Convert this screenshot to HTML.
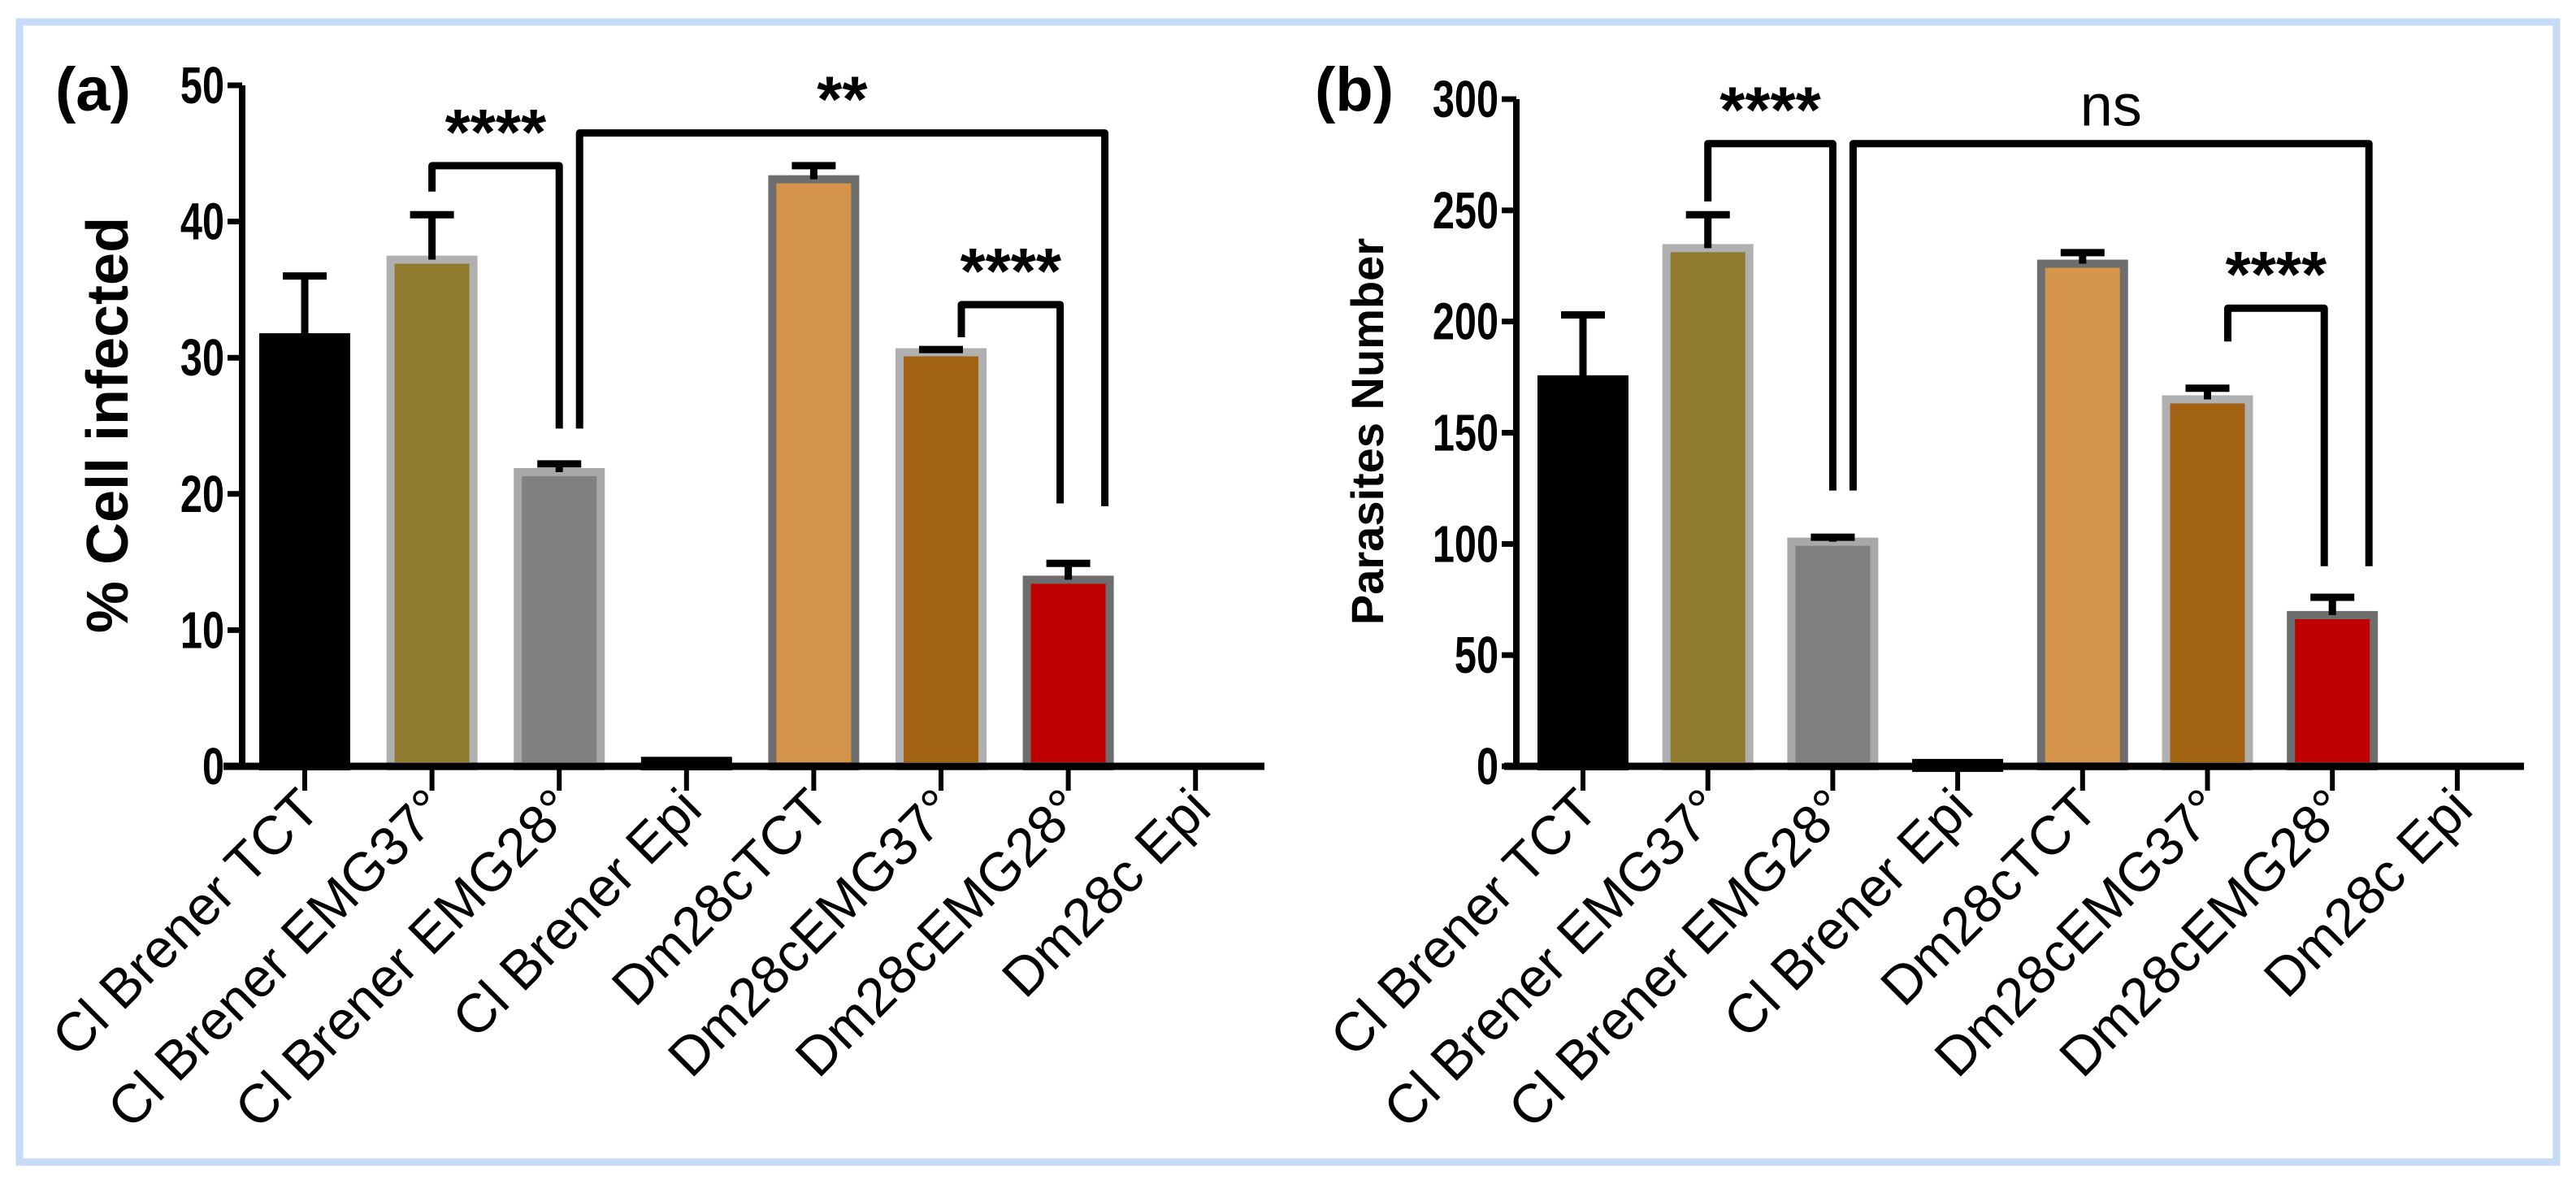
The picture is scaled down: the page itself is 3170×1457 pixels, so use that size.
<!DOCTYPE html>
<html><head><meta charset="utf-8"><style>
html,body{margin:0;padding:0;background:#fff;width:3170px;height:1457px;overflow:hidden}
svg{display:block}
text{font-family:"Liberation Sans",sans-serif}
</style></head><body>
<svg id="fig" width="3170" height="1457" viewBox="0 0 3170 1457" xmlns="http://www.w3.org/2000/svg">
<rect x="24" y="27" width="3122" height="1403" fill="none" stroke="#c6dbf6" stroke-width="9"/>
</svg>
<script>
const categories = ["Cl Brener TCT","Cl Brener EMG37°","Cl Brener EMG28°","Cl Brener Epi","Dm28cTCT","Dm28cEMG37°","Dm28cEMG28°","Dm28c Epi"];
const cellInfected = [31.5, 37.2, 21.6, 0.4, 43.1, 30.4, 13.7, 0];
const cellInfectedErr = [36.0, 40.5, 22.2, 0.4, 44.1, 30.6, 14.9, 0];
const parasites = [174, 233, 101, 1.5, 226, 165, 68, 0];
const parasitesErr = [203, 248, 103, 1.5, 231, 170, 76, 0];
const ticksA = [0, 10, 20, 30, 40, 50];
const ticksB = [0, 50, 100, 150, 200, 250, 300];
const fills = ["#000000","#8f7a2e","#808080","#000000","#d4944a","#a26214","#bf0000","#000000"];
const strokes = ["#000000","#b0b0b0","#a8a8a8","#000000","#6e6e6e","#b0b0b0","#6e6e6e","#000000"];
// brackets: [fromCat, toCat, level(value), leftLegValue, rightLegValue, label]
const bracketsA = [[1,2,44.1,42.2,24.8,"****"],[2,6,46.5,24.8,19.1,"**"],[5,6,33.9,31.5,19.3,"****"]];
const bracketsB = [[1,2,280,254,124,"****"],[2,6,280,124,90,"ns"],[5,6,206,191,90,"****"]];

const NS="http://www.w3.org/2000/svg";
const svg=document.getElementById('fig');
function mk(tag,attrs,parent){const e=document.createElementNS(NS,tag);for(const k in attrs)e.setAttribute(k,attrs[k]);(parent||svg).appendChild(e);return e;}

function panel(p){
  const g=mk('g',{});
  
  
  const y=v=>p.y0-(v-0)*(p.y0-p.yTop)/p.max;
  const x=i=>p.x1+i*p.step;
  p.vals.forEach((v,i)=>{
    const h=p.y0-y(v);
    if(h<=0.1) return;
    const b=mk('rect',{x:x(i)-51,y:y(v),width:102,height:Math.max(h,6),fill:fills[i],stroke:strokes[i],'stroke-width':10},g);
    
    
  });
  p.errs.forEach((e,i)=>{
    if(e<=p.vals[i]) return;
    const eb=mk('path',{d:`M${x(i)} ${y(p.vals[i])} V${y(e)} M${x(i)-27} ${y(e)} H${x(i)+27}`,stroke:'#000','stroke-width':9,fill:'none'},g);
    
    
  });
  const ya=mk('path',{d:`M${p.x0} ${p.yTop} V${p.y0+4}`,stroke:'#000','stroke-width':8,fill:'none'},g);
  
  
  const xa=mk('path',{d:`M${p.xaStart} ${p.y0} H${p.xaEnd}`,stroke:'#000','stroke-width':9,fill:'none'},g);
  
  
  p.ticks.forEach(t=>{
    mk('path',{d:`M${p.x0-18} ${y(t)} H${p.x0}`,stroke:'#000','stroke-width':7},g);
    const tl=mk('text',{x:0,y:0,'font-size':64,'font-weight':'bold','text-anchor':'end',transform:`translate(${p.x0-22},${y(t)+22}) scale(0.76,1)`},g);
    tl.textContent=t;
    
    
  });
  categories.forEach((c,i)=>{
    mk('path',{d:`M${x(i)} ${p.y0} V${p.y0+30}`,stroke:'#000','stroke-width':6},g);
    const t=mk('text',{x:0,y:0,'font-size':67,'text-anchor':'end',transform:`translate(${x(i)+22},${p.y0+56}) rotate(-45)`},g);
    t.textContent=c;
    
    
  });
  p.br.forEach(b=>{
    const wide=(b[0]===2&&b[1]===6);
    const xl2=(b[0]===1)?x(b[0]):x(b[0])+25;
    const xr2=(b[0]===1)?x(b[1]):(wide?x(b[1])+45:x(b[1])-10);
    const pa=mk('path',{d:`M${xl2} ${y(b[3])} V${y(b[2])} H${xr2} V${y(b[4])}`,stroke:'#000','stroke-width':9,fill:'none','stroke-linejoin':'round'},g);
    
    
    const st=mk('text',{x:(xl2+xr2)/2,y:y(b[2])-(b[5]==='ns'?22:14),'font-size':b[5]==='ns'?72:80,'font-weight':b[5]==='ns'?'normal':'bold','text-anchor':'middle'},g);
    st.textContent=b[5];
    
    
  });
  const pl=mk('text',{x:p.labX,y:136,'font-size':76,'font-weight':'bold'},g);
  pl.textContent=p.label;
  
  
  const yt=mk('text',{x:0,y:0,'font-size':p.titleSize,'font-weight':'bold','text-anchor':'middle',transform:`translate(${p.titleX},${p.titleY}) rotate(-90)`},g);
  yt.textContent=p.title;
  
  
}
panel({name:'panel-a-cell-infected',vals:cellInfected,errs:cellInfectedErr,ticks:ticksA,max:50,x0:298,y0:943,yTop:105,x1:375,step:156.6,xaStart:275,xaEnd:1556,br:bracketsA,label:'(a)',labX:68,title:'% Cell infected',titleSize:72,titleX:157,titleY:523});
panel({name:'panel-b-parasites-number',vals:parasites,errs:parasitesErr,ticks:ticksB,max:300,x0:1866,y0:943,yTop:122,x1:1948,step:153.7,xaStart:1851,xaEnd:3106,br:bracketsB,label:'(b)',labX:1618,title:'Parasites Number',titleSize:56,titleX:1702,titleY:531});
</script>
</body></html>
